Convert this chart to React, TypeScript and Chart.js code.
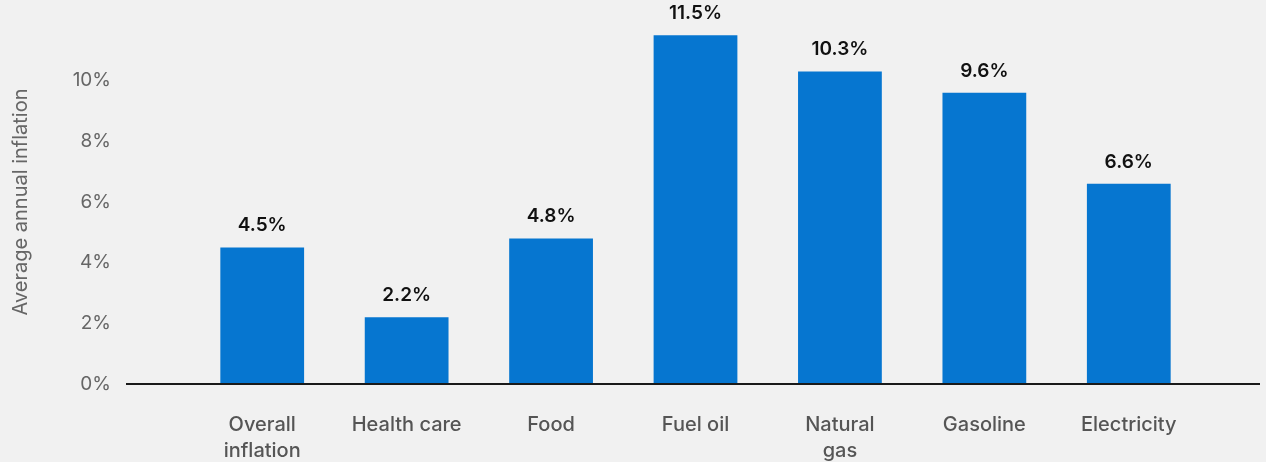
import React, { useEffect, useRef } from "react";
import { Chart, registerables } from "chart.js";

Chart.register(...registerables);

const categories: (string | string[])[] = [
  ["Overall", "inflation"],
  "Health care",
  "Food",
  "Fuel oil",
  ["Natural", "gas"],
  "Gasoline",
  "Electricity",
];
const values = [4.5, 2.2, 4.8, 11.5, 10.3, 9.6, 6.6];
const yTicks = [0, 2, 4, 6, 8, 10];
const yTitle = "Average annual inflation";

const FONT = "Inter, 'Open Sans', sans-serif";

const baselinePlugin = {
  id: "baseline",
  afterDatasetsDraw(chart: any) {
    const { ctx, chartArea, scales } = chart;
    const y = scales.y.getPixelForValue(0);
    ctx.save();
    ctx.strokeStyle = "#1a1a1a";
    ctx.lineWidth = 2;
    ctx.beginPath();
    ctx.moveTo(chartArea.left - 64, y);
    ctx.lineTo(chartArea.right + 59, y);
    ctx.stroke();
    ctx.restore();
  },
};

const valueLabelPlugin = {
  id: "valueLabels",
  afterDatasetsDraw(chart: any) {
    const { ctx } = chart;
    const meta = chart.getDatasetMeta(0);
    ctx.save();
    ctx.fillStyle = "#111";
    ctx.font = `600 19px ${FONT}`;
    ctx.textAlign = "center";
    ctx.textBaseline = "middle";
    meta.data.forEach((el: any, i: number) => {
      ctx.fillText(values[i].toFixed(1) + "%", el.x, el.y - 22);
    });
    ctx.restore();
  },
};

export default function App() {
  const ref = useRef<HTMLCanvasElement>(null);
  useEffect(() => {
    if (!ref.current) return;
    const chart = new Chart(ref.current, {
      type: "bar",
      data: {
        labels: categories,
        datasets: [
          {
            data: values,
            backgroundColor: "#0676d0",
            borderWidth: 0,
            categoryPercentage: 1,
            barPercentage: 0.58,
          },
        ],
      },
      options: {
        animation: false,
        responsive: false,
        maintainAspectRatio: false,
        layout: { padding: { top: 20, right: 65, bottom: 0, left: 0 } },
        plugins: { legend: { display: false }, tooltip: { enabled: false } },
        scales: {
          x: {
            grid: { display: false, drawTicks: false },
            border: { display: false },
            ticks: {
              color: "#555",
              font: { family: FONT, size: 20, weight: 500 as any, lineHeight: 1.3 },
              padding: 28,
              maxRotation: 0,
              autoSkip: false,
            },
            afterFit(scale: any) {
              scale.height = 78;
            },
          },
          y: {
            min: 0,
            max: 12,
            grid: { display: false, drawTicks: false },
            border: { display: false },
            afterBuildTicks(scale: any) {
              scale.ticks = yTicks.map((v) => ({ value: v }));
            },
            ticks: {
              color: "#666",
              font: { family: FONT, size: 19, weight: 400 as any },
              padding: 79,
              callback: (v: any) => v + "%",
            },
            title: {
              display: true,
              text: yTitle,
              color: "#666",
              font: { family: FONT, size: 20, weight: 400 as any },
              padding: { top: 9, bottom: 0 },
            },
            afterFit(scale: any) {
              scale.width = 190;
              scale.paddingTop = 0;
              scale.paddingBottom = 0;
            },
          },
        },
      },
      plugins: [baselinePlugin, valueLabelPlugin],
    });
    return () => chart.destroy();
  }, []);
  return (
    <div style={{ position: "fixed", left: 0, top: 0, width: 1266, height: 462, background: "#f1f1f1" }}>
      <canvas ref={ref} width={1266} height={462} style={{ width: 1266, height: 462, display: "block" }} />
    </div>
  );
}
